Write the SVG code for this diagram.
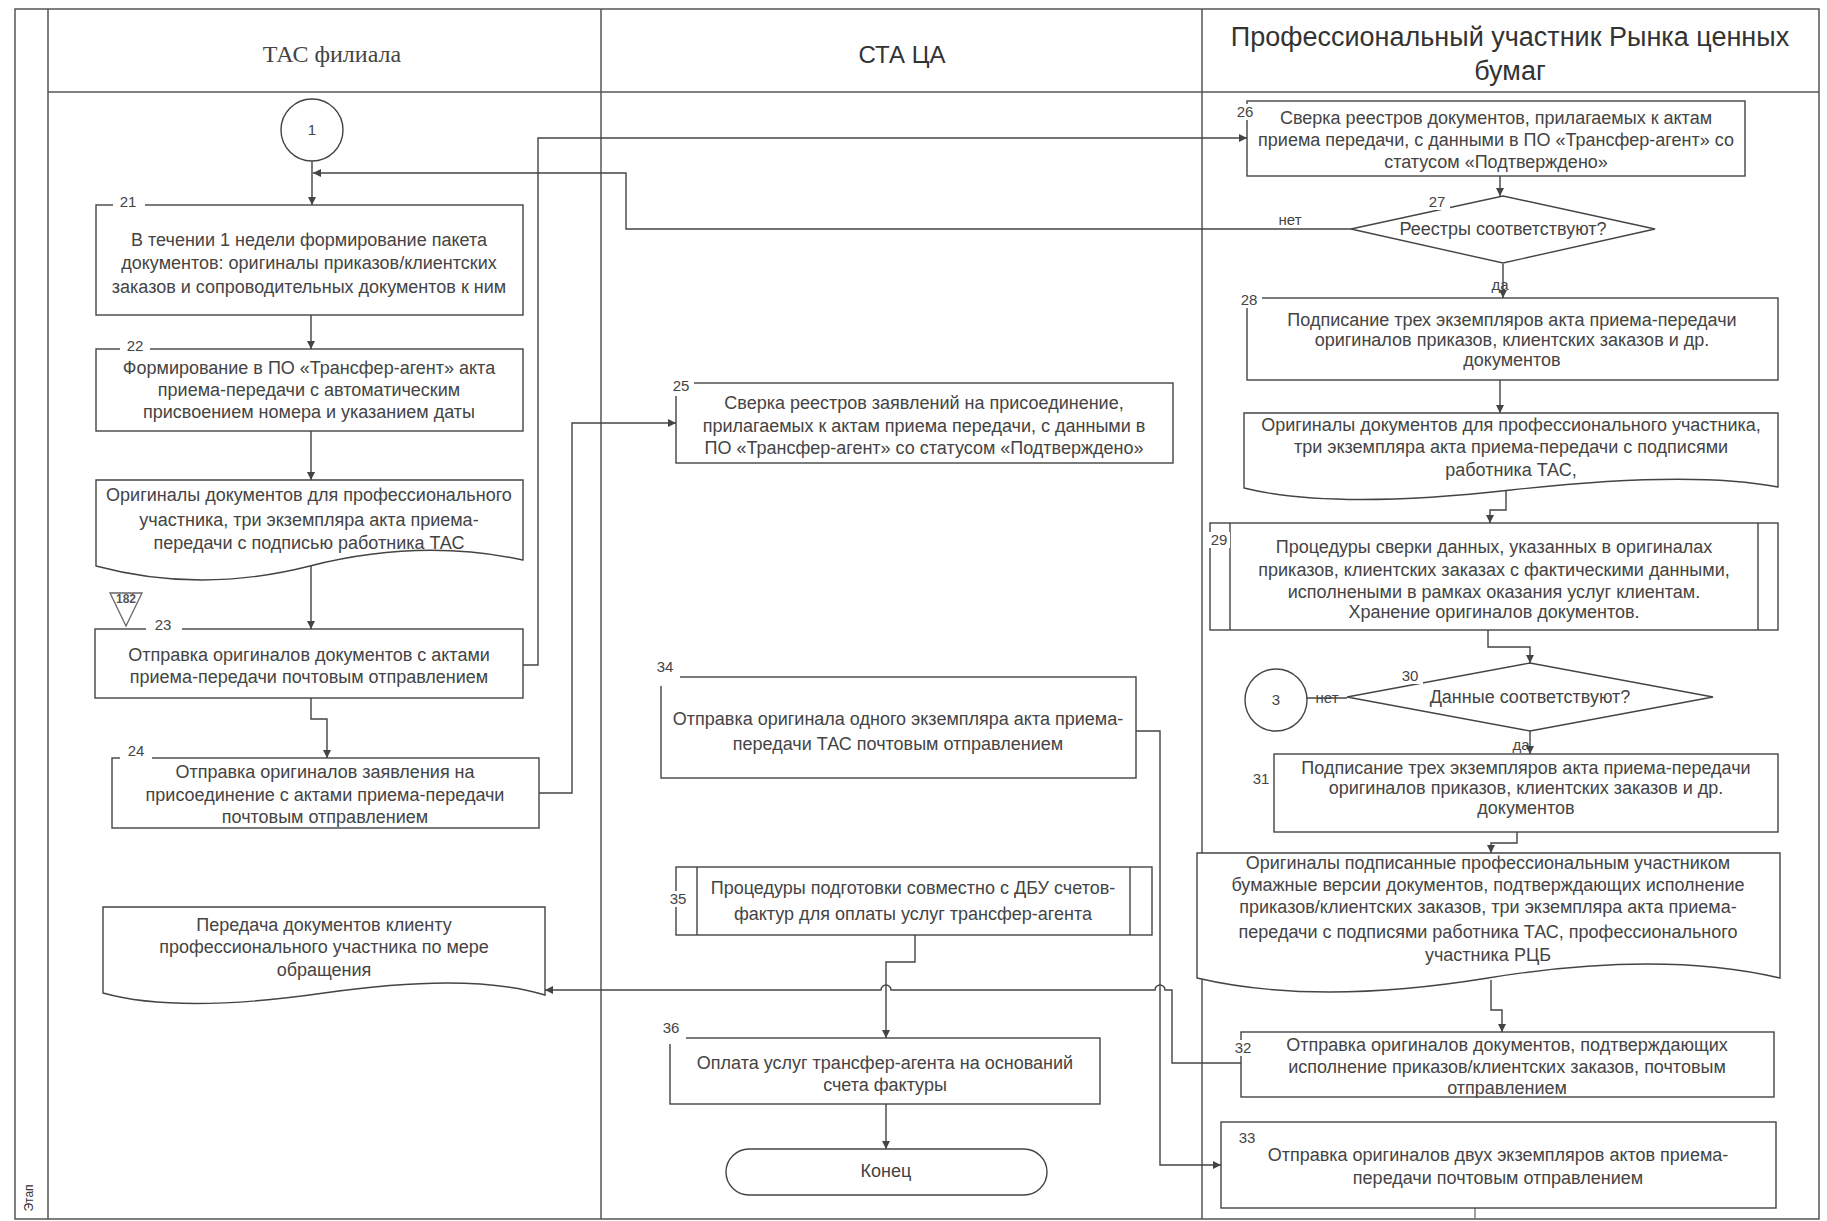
<svg xmlns="http://www.w3.org/2000/svg" width="1827" height="1221" viewBox="0 0 1827 1221">
<style>
.frame{fill:none;stroke:#555;stroke-width:1.5}
.box{fill:#fff;stroke:#444;stroke-width:1.4}
.ln{fill:none;stroke:#444;stroke-width:1.4}
.conn{fill:none;stroke:#444;stroke-width:1.4}
.arr{marker-end:url(#ah)}
.t{font-family:"Liberation Sans",Arial,sans-serif;font-size:18px;fill:#444;text-anchor:middle}
.n{font-family:"Liberation Sans",Arial,sans-serif;font-size:15px;fill:#444;text-anchor:middle}
.bg{fill:#fff;stroke:none}
.h{font-family:"Liberation Sans",Arial,sans-serif;fill:#333;text-anchor:middle}
</style>
<defs>
<marker id="ah" viewBox="0 0 10 10" refX="10" refY="5" markerWidth="9" markerHeight="8" markerUnits="userSpaceOnUse" orient="auto">
<path d="M0,0 L10,5 L0,10 Z" fill="#444"/>
</marker>
</defs>
<rect width="1827" height="1221" fill="#fff"/>
<g id="pool">
<rect class="frame" x="15" y="9" width="1804" height="1210"/>
<line class="frame" x1="48" y1="9" x2="48" y2="1219"/>
<line class="frame" x1="48" y1="92" x2="1819" y2="92"/>
<line class="frame" x1="601" y1="9" x2="601" y2="1219"/>
<line class="frame" x1="1202" y1="9" x2="1202" y2="1219"/>
<text class="h" x="332" y="62" style="font-family:'Liberation Serif','Times New Roman',serif;font-size:24px;fill:#444">ТАС филиала</text>
<text class="h" x="902" y="63" style="font-size:24px">СТА ЦА</text>
<text class="h" x="1510" y="46" style="font-size:27px">Профессиональный участник Рынка ценных</text>
<text class="h" x="1510" y="80" style="font-size:27px">бумаг</text>
<text class="h" transform="translate(33,1198) rotate(-90)" style="font-size:12px">Этап</text>
</g>
<g id="connectors">
<path class="conn arr" d="M312,161 V205"/>
<path class="conn arr" d="M311,315 V349"/>
<path class="conn arr" d="M311,431 V480"/>
<path class="conn arr" d="M311,566 V629"/>
<path class="conn arr" d="M523,665 H538 V138 H1247"/>
<path class="conn arr" d="M311,698 V719 H327 V758"/>
<path class="conn arr" d="M539,793 H572 V423 H676"/>
<path class="conn arr" d="M1351,229 H626 V173 H313"/>
<path class="conn arr" d="M1500,176 V196"/>
<path class="conn arr" d="M1503,264 V298"/>
<path class="conn arr" d="M1500,380 V413"/>
<path class="conn arr" d="M1506,488 V510 H1490 V523"/>
<path class="conn arr" d="M1488,630 V647 H1530 V663"/>
<path class="conn" d="M1347,698 H1307"/>
<path class="conn arr" d="M1530,731 V754"/>
<path class="conn arr" d="M1517,832 V843 H1491 V853"/>
<path class="conn arr" d="M1491,980 V1010 H1502 V1032"/>
<path class="conn arr" d="M1241,1063 H1172 V990 H1165 A5,5 0 0 0 1155,990 H891 A5,5 0 0 0 881,990 H545"/>
<path class="conn arr" d="M1136,731 H1160 V1165 H1221"/>
<path class="conn arr" d="M915,935 V962 H886 V1038"/>
<path class="conn arr" d="M886,1082 V1149"/>
<path class="conn" d="M1475,1185 V1219" style="stroke:#777"/>
</g>
<g id="start1">
<circle class="box" cx="312" cy="130" r="31"/>
<text class="n" x="312" y="135">1</text>
</g>
<g id="n21">
<rect class="box" x="96" y="205" width="427" height="110"/>
<rect class="bg" x="113" y="196" width="32" height="14"/>
<text class="n" x="128" y="207">21</text>
<text class="t" x="309" y="246">В течении 1  недели формирование  пакета</text>
<text class="t" x="309" y="269">документов: оригиналы приказов/клиентских</text>
<text class="t" x="309" y="293">заказов и сопроводительных документов к ним</text>
</g>
<g id="n22">
<rect class="box" x="96" y="349" width="427" height="82"/>
<rect class="bg" x="120" y="340" width="30" height="14"/>
<text class="n" x="135" y="351">22</text>
<text class="t" x="309" y="374">Формирование в ПО «Трансфер-агент» акта</text>
<text class="t" x="309" y="396">приема-передачи с автоматическим</text>
<text class="t" x="309" y="418">присвоением номера и указанием даты</text>
</g>
<g id="doc1">
<path class="box" d="M96,480 H523 V560 Q420,538 310,566 T96,566 Z"/>
<text class="t" x="309" y="501">Оригиналы документов для профессионального</text>
<text class="t" x="309" y="526">участника, три экземпляра акта приема-</text>
<text class="t" x="309" y="549">передачи с подписью работника ТАС</text>
</g>
<g id="ref182">
<polygon points="110,593 142,593 126,626" fill="none" stroke="#666" stroke-width="1.3"/>
<text x="126" y="603" style="font-family:'Liberation Sans',Arial,sans-serif;font-size:12px;font-weight:bold;fill:#555;text-anchor:middle">182</text>
</g>
<g id="n23">
<rect class="box" x="95" y="629" width="428" height="69"/>
<rect class="bg" x="146" y="620" width="36" height="14"/>
<text class="n" x="163" y="630">23</text>
<text class="t" x="309" y="661">Отправка оригиналов документов с актами</text>
<text class="t" x="309" y="683">приема-передачи почтовым отправлением</text>
</g>
<g id="n24">
<rect class="box" x="112" y="758" width="427" height="70"/>
<rect class="bg" x="120" y="748" width="32" height="14"/>
<text class="n" x="136" y="756">24</text>
<text class="t" x="325" y="778">Отправка оригиналов заявления на</text>
<text class="t" x="325" y="801">присоединение с актами приема-передачи</text>
<text class="t" x="325" y="823">почтовым отправлением</text>
</g>
<g id="doc2">
<path class="box" d="M103,907 H545 V995 Q470,972 324,993 T103,993 Z"/>
<text class="t" x="324" y="931">Передача документов клиенту</text>
<text class="t" x="324" y="953">профессионального участника по мере</text>
<text class="t" x="324" y="976">обращения</text>
</g>
<g id="n25">
<rect class="box" x="676" y="383" width="497" height="80"/>
<rect class="bg" x="668" y="374" width="26" height="22"/>
<text class="n" x="681" y="391">25</text>
<text class="t" x="924" y="409">Сверка реестров заявлений на присоединение,</text>
<text class="t" x="924" y="432">прилагаемых к актам приема передачи, с данными в</text>
<text class="t" x="924" y="454">ПО «Трансфер-агент» со статусом «Подтверждено»</text>
</g>
<g id="n34">
<rect class="box" x="661" y="677" width="475" height="101"/>
<rect class="bg" x="652" y="656" width="28" height="30"/>
<text class="n" x="665" y="672">34</text>
<text class="t" x="898" y="725">Отправка оригинала одного экземпляра акта приема-</text>
<text class="t" x="898" y="750">передачи ТАС  почтовым отправлением</text>
</g>
<g id="n35">
<rect class="box" x="676" y="867" width="476" height="68"/>
<line class="ln" x1="697" y1="867" x2="697" y2="935"/>
<line class="ln" x1="1130" y1="867" x2="1130" y2="935"/>
<rect class="bg" x="667" y="891" width="22" height="16"/>
<text class="n" x="678" y="904">35</text>
<text class="t" x="913" y="894">Процедуры подготовки совместно с ДБУ счетов-</text>
<text class="t" x="913" y="920">фактур для оплаты услуг трансфер-агента</text>
</g>
<g id="n36">
<rect class="box" x="670" y="1038" width="430" height="66"/>
<rect class="bg" x="658" y="1020" width="28" height="24"/>
<text class="n" x="671" y="1033">36</text>
<text class="t" x="885" y="1069">Оплата услуг трансфер-агента на оснований</text>
<text class="t" x="885" y="1091">счета фактуры</text>
</g>
<g id="end">
<rect class="box" x="726" y="1149" width="321" height="46" rx="23"/>
<text class="t" x="886" y="1177">Конец</text>
</g>
<g id="n26">
<rect class="box" x="1247" y="101" width="498" height="75"/>
<rect class="bg" x="1234" y="104" width="22" height="16"/>
<text class="n" x="1245" y="117">26</text>
<text class="t" x="1496" y="124">Сверка реестров документов, прилагаемых к актам</text>
<text class="t" x="1496" y="146">приема передачи, с данными в ПО «Трансфер-агент» со</text>
<text class="t" x="1496" y="168">статусом «Подтверждено»</text>
</g>
<g id="n27">
<polygon class="box" points="1351,229 1503,196 1655,229 1503,263"/>
<rect class="bg" x="1424" y="194" width="26" height="16"/>
<text class="n" x="1437" y="207">27</text>
<text class="t" x="1503" y="235">Реестры соответствуют?</text>
<text class="n" x="1290" y="225">нет</text>
<text class="n" x="1500" y="290">да</text>
</g>
<g id="n28">
<rect class="box" x="1247" y="298" width="531" height="82"/>
<rect class="bg" x="1236" y="292" width="26" height="16"/>
<text class="n" x="1249" y="305">28</text>
<text class="t" x="1512" y="326">Подписание трех экземпляров акта приема-передачи</text>
<text class="t" x="1512" y="346">оригиналов  приказов, клиентских заказов и др.</text>
<text class="t" x="1512" y="366">документов</text>
</g>
<g id="doc3">
<path class="box" d="M1244,413 H1778 V487 Q1690,470 1511,490 T1244,488 Z"/>
<text class="t" x="1511" y="431">Оригиналы документов для профессионального участника,</text>
<text class="t" x="1511" y="453">три экземпляра акта приема-передачи с подписями</text>
<text class="t" x="1511" y="476">работника ТАС,</text>
</g>
<g id="n29">
<rect class="box" x="1210" y="523" width="568" height="107"/>
<line class="ln" x1="1230" y1="523" x2="1230" y2="630"/>
<line class="ln" x1="1758" y1="523" x2="1758" y2="630"/>
<rect class="bg" x="1208" y="532" width="22" height="16"/>
<text class="n" x="1219" y="545">29</text>
<text class="t" x="1494" y="553">Процедуры сверки данных, указанных в оригиналах</text>
<text class="t" x="1494" y="576">приказов, клиентских заказах с фактическими данными,</text>
<text class="t" x="1494" y="598">исполнеными в рамках оказания  услуг клиентам.</text>
<text class="t" x="1494" y="618">Хранение оригиналов документов.</text>
</g>
<g id="n30">
<polygon class="box" points="1347,697 1530,663 1713,697 1530,731"/>
<rect class="bg" x="1397" y="668" width="26" height="16"/>
<text class="n" x="1410" y="681">30</text>
<text class="t" x="1530" y="703">Данные соответствуют?</text>
<text class="n" x="1327" y="703">нет</text>
<text class="n" x="1521" y="750">да</text>
</g>
<g id="conn3">
<circle class="box" cx="1276" cy="700" r="31"/>
<text class="n" x="1276" y="705">3</text>
</g>
<g id="n31">
<rect class="box" x="1274" y="754" width="504" height="78"/>
<rect class="bg" x="1250" y="771" width="22" height="16"/>
<text class="n" x="1261" y="784">31</text>
<text class="t" x="1526" y="774">Подписание трех экземпляров акта  приема-передачи</text>
<text class="t" x="1526" y="794">оригиналов приказов, клиентских заказов и др.</text>
<text class="t" x="1526" y="814">документов</text>
</g>
<g id="doc4">
<path class="box" d="M1197,853 H1780 V978 Q1660,950 1488,978 T1197,978 Z"/>
<text class="t" x="1488" y="869">Оригиналы подписанные профессиональным участником</text>
<text class="t" x="1488" y="891">бумажные версии документов, подтверждающих исполнение</text>
<text class="t" x="1488" y="913">приказов/клиентских заказов, три экземпляра акта приема-</text>
<text class="t" x="1488" y="938">передачи с подписями работника ТАС, профессионального</text>
<text class="t" x="1488" y="961">участника РЦБ</text>
</g>
<g id="n32">
<rect class="box" x="1241" y="1032" width="533" height="65"/>
<rect class="bg" x="1232" y="1040" width="22" height="16"/>
<text class="n" x="1243" y="1053">32</text>
<text class="t" x="1507" y="1051">Отправка оригиналов  документов, подтверждающих</text>
<text class="t" x="1507" y="1073">исполнение приказов/клиентских заказов, почтовым</text>
<text class="t" x="1507" y="1094">отправлением</text>
</g>
<g id="n33">
<rect class="box" x="1221" y="1122" width="555" height="86"/>
<text class="n" x="1247" y="1143">33</text>
<text class="t" x="1498" y="1161">Отправка оригиналов  двух экземпляров актов приема-</text>
<text class="t" x="1498" y="1184">передачи почтовым отправлением</text>
</g>
</svg>
